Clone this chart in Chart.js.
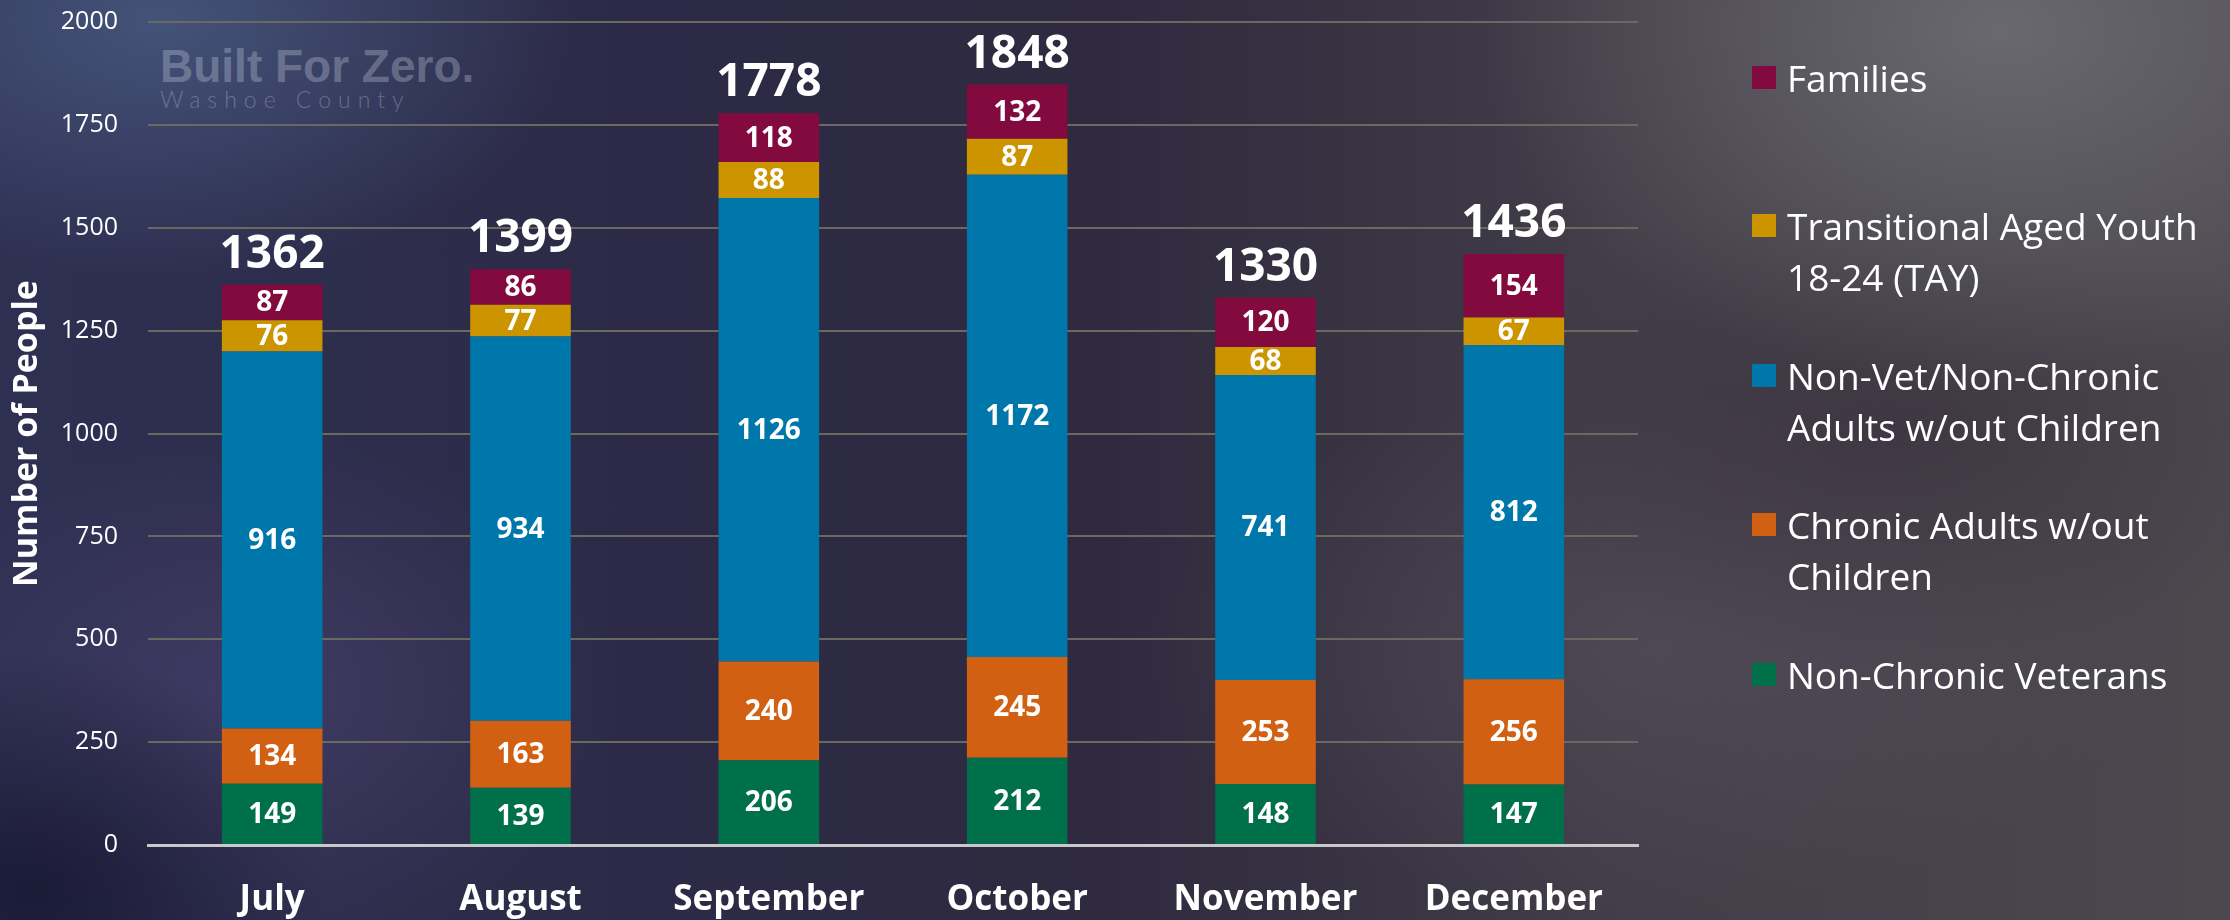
<!DOCTYPE html>
<html>
<head>
<meta charset="utf-8">
<script src="https://cdn.jsdelivr.net/npm/chart.js@4.4.1/dist/chart.umd.min.js"></script>
<style>
    html, body { margin: 0; padding: 0; }
    body {
        width: 2230px; height: 920px; overflow: hidden; position: relative;
        font-family: "Open Sans", sans-serif;
        background:
            radial-gradient(ellipse 420px 260px at 160px 20px, rgba(75,95,135,0.75), rgba(75,95,135,0) 100%),
            radial-gradient(ellipse 520px 360px at 2000px 30px, rgba(120,120,126,0.7), rgba(120,120,126,0) 100%),
            radial-gradient(ellipse 300px 240px at 30px 890px, rgba(18,18,42,0.7), rgba(18,18,42,0) 100%),
            radial-gradient(ellipse 360px 260px at 260px 690px, rgba(85,75,125,0.45), rgba(85,75,125,0) 100%),
            radial-gradient(ellipse 420px 240px at 1900px 430px, rgba(55,45,60,0.5), rgba(55,45,60,0) 100%),
            radial-gradient(ellipse 500px 260px at 1650px 650px, rgba(92,84,100,0.45), rgba(92,84,100,0) 100%),
            linear-gradient(90deg, #2e3052 0%, #2c2a46 30%, #2f2a3e 50%, #423d48 72%, #4b484e 100%);
    }
    #wrap { position: absolute; left: 0; top: 0; width: 2230px; height: 920px; }
    canvas { position: absolute; left: 0; top: 0; }
    .mark { position: absolute; left: 160px; color: rgba(220,225,240,0.3); white-space: nowrap; }
    .mark.big { top: 43px; font-family: "Liberation Sans", Arial, sans-serif; font-weight: bold; font-size: 46px; line-height: 46px; }
    .mark.small { top: 86px; font-family: Lato, sans-serif; font-weight: 300; font-size: 23px; line-height: 26px; letter-spacing: 7px; }
    #legend { position: absolute; left: 1752px; top: 0; color: #fff; }
    .item { position: absolute; left: 0; white-space: nowrap; font-size: 37px; line-height: 51px; }
    .item .sw { position: absolute; left: 0; top: 14px; width: 24px; height: 23px; }
    .item .tx { position: absolute; left: 35px; top: 0; }
</style>
</head>
<body>
<div class="mark big">Built For Zero.</div>
<div class="mark small">Washoe County</div>
<div id="wrap"><canvas id="chart" width="2230" height="920"></canvas></div>
<div id="legend"></div>
<script>
// values
const months = ['July', 'August', 'September', 'October', 'November', 'December'];
const veterans = [149, 139, 206, 212, 148, 147];
const chronic = [134, 163, 240, 245, 253, 256];
const nonVet = [916, 934, 1126, 1172, 741, 812];
const tay = [76, 77, 88, 87, 68, 67];
const families = [87, 86, 118, 132, 120, 154];
const totals = [1362, 1399, 1778, 1848, 1330, 1436];
const yTicks = [0, 250, 500, 750, 1000, 1250, 1500, 1750, 2000];

// bottom to top
const series = [
    { label: 'Non-Chronic Veterans', data: veterans, color: '#00704a' },
    { label: 'Chronic Adults w/out Children', data: chronic, color: '#d26012' },
    { label: 'Non-Vet/Non-Chronic Adults w/out Children', data: nonVet, color: '#0077aa' },
    { label: 'Transitional Aged Youth 18-24 (TAY)', data: tay, color: '#cc9500' },
    { label: 'Families', data: families, color: '#820a3e' }
];

// legend text as real text (top to bottom, with the line breaks of the picture)
const legendRows = [
    { lines: ['Families'], color: '#820a3e', top: 52 },
    { lines: ['Transitional Aged Youth', '18-24 (TAY)'], color: '#cc9500', top: 200 },
    { lines: ['Non-Vet/Non-Chronic', 'Adults w/out Children'], color: '#0077aa', top: 350 },
    { lines: ['Chronic Adults w/out', 'Children'], color: '#d26012', top: 499 },
    { lines: ['Non-Chronic Veterans'], color: '#00704a', top: 649 }
];
document.getElementById('legend').innerHTML = legendRows.map(r => `
    <div class="item" style="top:${r.top}px;">
        <span class="sw" style="background:${r.color};"></span>
        <span class="tx">${r.lines.join('<br>')}</span>
    </div>`).join('');

const segLabels = {
    id: 'segLabels',
    afterDatasetsDraw(chart) {
        const ctx = chart.ctx;
        ctx.save();
        ctx.fillStyle = '#ffffff';
        ctx.textAlign = 'center';
        ctx.textBaseline = 'middle';
        ctx.font = 'bold 28px "Open Sans"';
        chart.data.datasets.forEach((ds, i) => {
            chart.getDatasetMeta(i).data.forEach((bar, j) => {
                ctx.fillText(String(ds.data[j]), bar.x, (bar.y + bar.base) / 2 + 1);
            });
        });
        // totals above the stacks
        const top = chart.getDatasetMeta(chart.data.datasets.length - 1);
        ctx.font = 'bold 46px "Open Sans"';
        ctx.textBaseline = 'alphabetic';
        top.data.forEach((bar, j) => ctx.fillText(String(totals[j]), bar.x, bar.y - 17));
        ctx.restore();
    }
};

new Chart(document.getElementById('chart').getContext('2d'), {
    type: 'bar',
    data: {
        labels: months,
        datasets: series.map(s => ({
            label: s.label,
            data: s.data,
            backgroundColor: s.color,
            borderWidth: 0,
            categoryPercentage: 1,
            barPercentage: 0.405
        }))
    },
    options: {
        responsive: false,
        animation: false,
        layout: { padding: { top: 22, right: 592, left: 0, bottom: 0 } },
        plugins: { legend: { display: false }, tooltip: { enabled: false } },
        scales: {
            x: {
                stacked: true,
                grid: { display: false, drawTicks: false },
                border: { display: true, color: '#c9c9cc', width: 3 },
                ticks: { color: '#ffffff', padding: 34, font: { family: 'Open Sans', size: 35, weight: 'bold' } },
                afterFit(scale) { scale.height = 75; }
            },
            y: {
                stacked: true,
                min: 0,
                max: 2000,
                afterBuildTicks(scale) { scale.ticks = yTicks.map(v => ({ value: v })); },
                grid: { color: '#6b6862', lineWidth: 2, drawTicks: false },
                border: { display: false },
                ticks: {
                    color: '#ffffff', padding: 30,
                    font: { family: 'Open Sans', size: 25 },
                    callback: v => String(v)
                },
                title: {
                    display: true,
                    text: 'Number of People',
                    color: '#ffffff',
                    padding: { top: 7, bottom: 0 },
                    font: { family: 'Open Sans', size: 34, weight: 'bold' }
                },
                afterFit(scale) {
                    scale.width = 148;
                    scale.paddingTop = 0;
                    scale.paddingBottom = 0;
                }
            }
        }
    },
    plugins: [segLabels]
});
</script>
</body>
</html>
